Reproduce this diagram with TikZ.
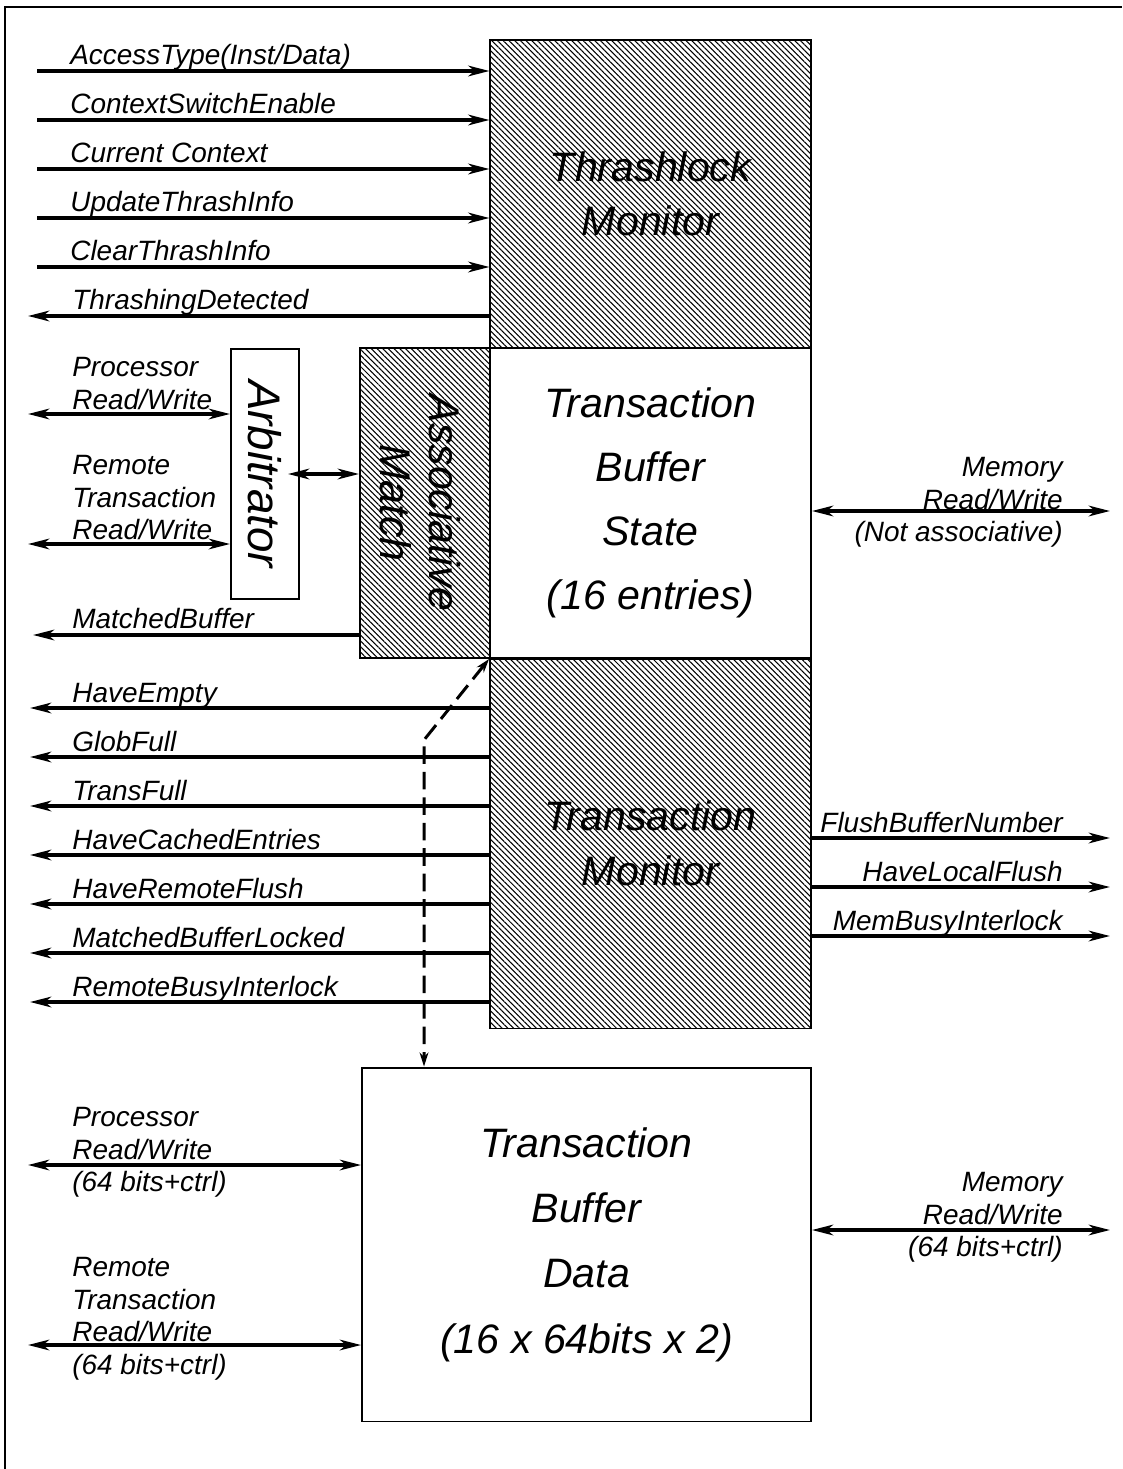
\documentclass[tikz,border=0pt]{standalone}
\usepackage{fontspec}
\setmainfont{Liberation Sans}
\usetikzlibrary{arrows.meta,patterns.meta}

\tikzset{
	blk/.style={draw, line width=1.1pt, inner sep=0pt, align=center},
	hatched/.style={pattern={Lines[angle=-45,distance=2.3pt,line width=0.6pt]}},
	sig/.style={line width=2pt},
	lbl/.style={inner sep=0pt, align=left, font=\fontsize{15.9}{18.6}\selectfont\itshape},
	rlbl/.style={lbl, align=right},
}

\begin{document}
\begin{tikzpicture}[x=0.02cm, y=-0.02cm, >={Stealth[length=12pt,width=6pt,inset=3.5pt]}]
	\useasboundingbox (0,0) rectangle (1122,1469);
	\draw[line width=1.2pt] (5,1469) -- (5,7) -- (1122,7);

	% main blocks
	\node[blk, hatched, minimum width=6.42cm, minimum height=6.16cm,
		font=\fontsize{23.4}{30.6}\selectfont\itshape] (tlm) at (650.5,194) {Thrashlock\\Monitor};
	\node[blk, fill=white, minimum width=6.42cm, minimum height=6.2cm,
		font=\fontsize{23.4}{36.3}\selectfont\itshape] (tbs) at (650.5,503) {Transaction\\Buffer\\State\\(16 entries)};
	\node[blk, hatched, minimum width=6.42cm, minimum height=7.4cm,
		font=\fontsize{23.4}{31}\selectfont\itshape] (tm) at (650.5,843.5) {Transaction\\Monitor};
	\node[blk, hatched, minimum width=2.6cm, minimum height=6.2cm] (am) at (425,503) {};
	\node[rotate=-90, align=center, inner sep=0pt,
		font=\fontsize{24.4}{28}\selectfont\itshape] (amtxt) at (420,503) {Associative\\Match};
	\node[blk, fill=white, minimum width=1.36cm, minimum height=5cm] (arb) at (265,474) {};
	\node[rotate=-90, inner sep=0pt, font=\fontsize{26}{30}\selectfont\itshape] (arbtxt) at (arb) {Arbitrator};
	\node[blk, minimum width=8.98cm, minimum height=7.08cm,
		font=\fontsize{23.4}{37.2}\selectfont\itshape] (tbd) at (586.5,1244.5) {Transaction\\Buffer\\Data\\(16 x 64bits x 2)};

	% thrashlock monitor signals
	\foreach \y/\txt [count=\i] in {71/{AccessType(Inst/Data)},120/ContextSwitchEnable,169/Current Context,218/UpdateThrashInfo,267/ClearThrashInfo}{
		\coordinate (in\i) at (37,\y);
		\draw[sig,->] (in\i) -- (in\i -| tlm.west);
		\node[lbl, anchor=base west] (inl\i) at (70,\y-6) {\txt};
	}
	\coordinate (thr) at (28,316);
	\draw[sig,->] (thr -| tlm.west) -- (thr);
	\node[lbl, anchor=base west] (thrl) at (72,310) {ThrashingDetected};

	% arbitrator and associative match
	\coordinate (prw) at (28,414);
	\coordinate (rrw) at (28,544);
	\draw[sig,<->] (prw) -- (prw -| arb.west);
	\draw[sig,<->] (rrw) -- (rrw -| arb.west);
	\node[lbl, anchor=north west] (prwl) at (72,357) {Processor\\Read/Write};
	\node[lbl, anchor=north west] (rrwl) at (72,455) {Remote\\Transaction\\Read/Write};
	\draw[sig,<->] ([xshift=-0.24cm]arb.east) -- (arb.east -| am.west);
	\coordinate (mb) at (33,635);
	\draw[sig,->] (mb -| am.west) -- (mb);
	\node[lbl, anchor=base west] (mbl) at (72,628) {MatchedBuffer};

	% memory side of buffer state
	\coordinate (mrw) at (1110,511);
	\draw[sig,<->] (mrw -| tbs.east) -- (mrw);
	\node[rlbl, anchor=north east] (mrwl) at (1063,457) {Memory\\Read/Write\\(Not associative)};

	% transaction monitor signals
	\foreach \y/\txt [count=\i] in {708/HaveEmpty,757/GlobFull,806/TransFull,855/HaveCachedEntries,904/HaveRemoteFlush,953/MatchedBufferLocked,1002/RemoteBusyInterlock}{
		\coordinate (out\i) at (30,\y);
		\draw[sig,->] (out\i -| tm.west) -- (out\i);
		\node[lbl, anchor=base west] (outl\i) at (72,\y-6) {\txt};
	}
	\foreach \y/\txt [count=\i] in {838/FlushBufferNumber,887/HaveLocalFlush,936/MemBusyInterlock}{
		\coordinate (rout\i) at (1110,\y);
		\draw[sig,->] (rout\i -| tm.east) -- (rout\i);
		\node[lbl, anchor=base east] (routl\i) at (1063,\y-6) {\txt};
	}

	% state to data link
	\coordinate (bend) at (424,740);
	\draw[line width=1.7pt, dash pattern=on 10pt off 4.5pt, {Stealth[length=8pt,width=5pt]}-{Stealth[length=8pt,width=5pt]}]
		(tbs.south west) -- (bend) -- (bend |- tbd.north);

	% buffer data signals
	\coordinate (pdat) at (28,1165);
	\coordinate (rdat) at (28,1345);
	\coordinate (mdat) at (1110,1230);
	\draw[sig,<->] (pdat) -- (pdat -| tbd.west);
	\draw[sig,<->] (rdat) -- (rdat -| tbd.west);
	\draw[sig,<->] (mdat -| tbd.east) -- (mdat);
	\node[lbl, anchor=north west] (pdatl) at (72,1107) {Processor\\Read/Write\\(64 bits+ctrl)};
	\node[lbl, anchor=north west] (rdatl) at (72,1257) {Remote\\Transaction\\Read/Write\\(64 bits+ctrl)};
	\node[rlbl, anchor=north east] (mdatl) at (1063,1172) {Memory\\Read/Write\\(64 bits+ctrl)};

\end{tikzpicture}
\end{document}
